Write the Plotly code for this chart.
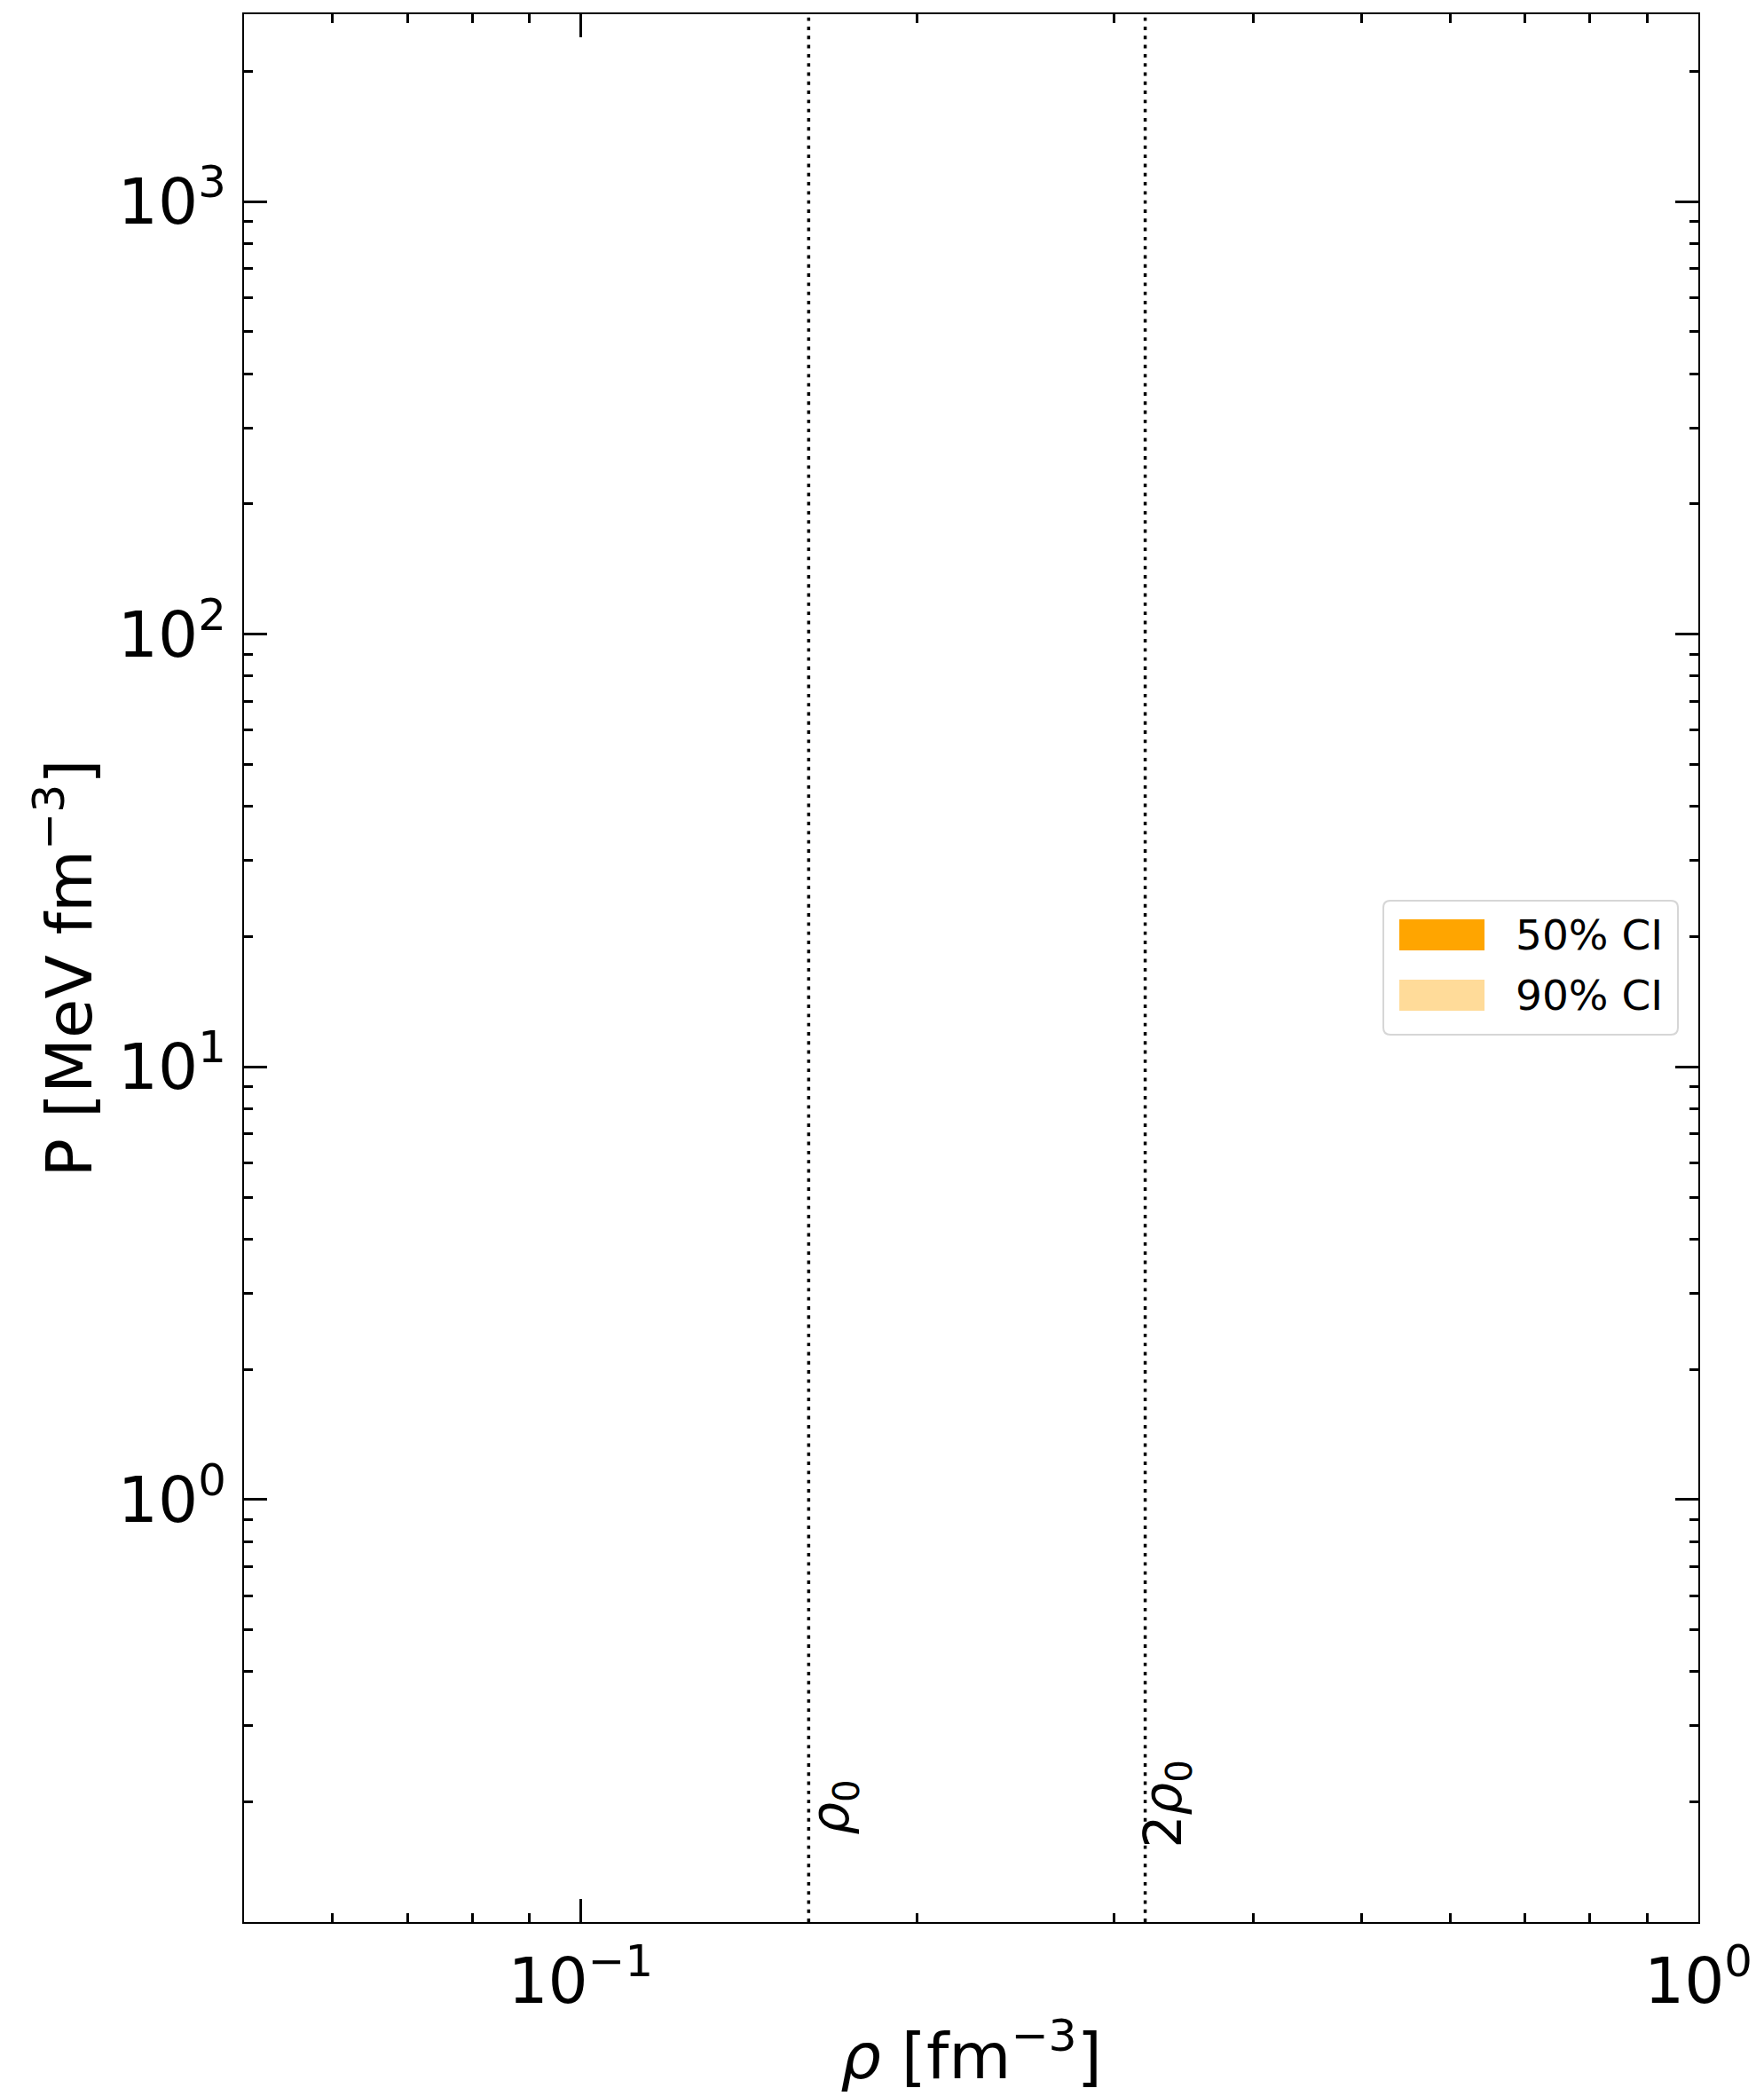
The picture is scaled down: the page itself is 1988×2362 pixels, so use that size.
import math
import plotly.graph_objects as go

# ---------------- data ----------------
rho0 = 0.16                       # saturation density [fm^-3]
density_marks = [rho0, 2 * rho0]  # vertical reference lines
density_labels = ["<i>ρ</i><sub>0</sub>", "2<i>ρ</i><sub>0</sub>"]

x_range = [0.05, 1.0]
y_range = [0.1056, 2710.0]

x_major = [0.1, 1.0]
x_major_text = ["10<sup>−1</sup>", "10<sup>0</sup>"]
y_major = [1.0, 10.0, 100.0, 1000.0]
y_major_text = ["10<sup>0</sup>", "10<sup>1</sup>", "10<sup>2</sup>", "10<sup>3</sup>"]

ci_names = ["50% CI", "90% CI"]
ci_colors = ["#FFA500", "#FFDB99"]
# credible bands (no band is visible in the reference window)
ci50_rho, ci50_lo, ci50_hi = [], [], []
ci90_rho, ci90_lo, ci90_hi = [], [], []

# ---------------- layout geometry ----------------
W, H = 1988, 2362
L, R, T, B = 275, 1914, 16, 2166
FONT = "DejaVu Sans"


def minor_ticks(lo, hi):
    vals = []
    for e in range(math.floor(math.log10(lo)) - 1, math.ceil(math.log10(hi)) + 1):
        for k in range(2, 10):
            v = k * 10 ** e
            if lo * 0.999 <= v <= hi * 1.001:
                vals.append(v)
    return vals


def px(xp):
    return (xp - L) / (R - L)


def py(yp):
    return (B - yp) / (B - T)


fig = go.Figure()

for name, col, xs, lo, hi in [
    (ci_names[1], ci_colors[1], ci90_rho, ci90_lo, ci90_hi),
    (ci_names[0], ci_colors[0], ci50_rho, ci50_lo, ci50_hi),
]:
    fig.add_trace(go.Scatter(
        x=list(xs) + list(xs)[::-1], y=list(hi) + list(lo)[::-1],
        fill="toself", fillcolor=col, line=dict(width=0),
        name=name, showlegend=False, hoverinfo="skip"))

for v in density_marks:
    fig.add_trace(go.Scatter(
        x=[v, v], y=[y_range[0], y_range[1]], mode="lines",
        line=dict(color="black", width=3.5, dash="3.9px,6.4px"),
        showlegend=False, hoverinfo="skip"))

annotations = []
label_bottom_px = [2069, 2084]
label_shift = [-11, -15]
for v, txt, yb, xs in zip(density_marks, density_labels, label_bottom_px, label_shift):
    annotations.append(dict(
        x=math.log10(v), xref="x", y=py(yb), yref="paper",
        text=txt, textangle=-90, showarrow=False,
        xanchor="left", yanchor="bottom", xshift=xs, borderpad=0,
        font=dict(family=FONT, size=58, color="black")))

# ---------------- legend (drawn) ----------------
shapes = []
lx0, lx1, ly0, ly1 = 1559, 1891, 1015, 1166
r = 8
rx, ry = r / (R - L), r / (B - T)
X0, X1, Y0, Y1 = px(lx0), px(lx1), py(ly1), py(ly0)
path = (f"M{X0+rx},{Y1} L{X1-rx},{Y1} Q{X1},{Y1} {X1},{Y1-ry} "
        f"L{X1},{Y0+ry} Q{X1},{Y0} {X1-rx},{Y0} L{X0+rx},{Y0} "
        f"Q{X0},{Y0} {X0},{Y0+ry} L{X0},{Y1-ry} Q{X0},{Y1} {X0+rx},{Y1} Z")
shapes.append(dict(type="path", path=path, xref="paper", yref="paper",
                   fillcolor="rgba(255,255,255,0.8)",
                   line=dict(color="#d6d6d6", width=2), layer="above"))
sw_rows = [(1036, 1071), (1104, 1139)]
for (s0, s1), name, col in zip(sw_rows, ci_names, ci_colors):
    shapes.append(dict(type="rect", xref="paper", yref="paper",
                       x0=px(1577), x1=px(1673), y0=py(s1), y1=py(s0),
                       fillcolor=col, line=dict(width=0), layer="above"))
    annotations.append(dict(
        x=px(1707), xref="paper", y=py((s0 + s1) / 2), yref="paper",
        text=name, showarrow=False, xanchor="left", yanchor="middle",
        borderpad=0, font=dict(family=FONT, size=47, color="black")))

axis_common = dict(
    type="log", showgrid=False, zeroline=False,
    showline=True, linecolor="black", linewidth=2, mirror="allticks",
    ticks="inside", ticklen=26, tickwidth=3, tickcolor="black",
    tickfont=dict(family=FONT, size=71, color="black"),
)

fig.update_layout(
    width=W, height=H,
    margin=dict(l=L, r=W - R, t=T, b=H - B, autoexpand=False),
    paper_bgcolor="white", plot_bgcolor="white",
    showlegend=False,
    font=dict(family=FONT, color="black"),
    xaxis=dict(
        **axis_common,
        range=[math.log10(x_range[0]), math.log10(x_range[1])],
        tickmode="array", tickvals=x_major, ticktext=x_major_text,
        ticklabelstandoff=4,
        minor=dict(tickmode="array", tickvals=minor_ticks(*x_range),
                   ticks="inside", ticklen=10, tickwidth=3, tickcolor="black"),
        title=dict(text="<i>ρ</i> [fm<sup>−3</sup>]", standoff=18,
                   font=dict(family=FONT, size=72, color="black")),
    ),
    yaxis=dict(
        **axis_common,
        range=[math.log10(y_range[0]), math.log10(y_range[1])],
        tickmode="array", tickvals=y_major, ticktext=y_major_text,
        ticklabelstandoff=4,
        minor=dict(tickmode="array", tickvals=minor_ticks(*y_range),
                   ticks="inside", ticklen=10, tickwidth=3, tickcolor="black"),
        title=dict(text="P [MeV fm<sup>−3</sup>]", standoff=6,
                   font=dict(family=FONT, size=72, color="black")),
    ),
    shapes=shapes,
    annotations=annotations,
)

fig.write_html("out.html")
